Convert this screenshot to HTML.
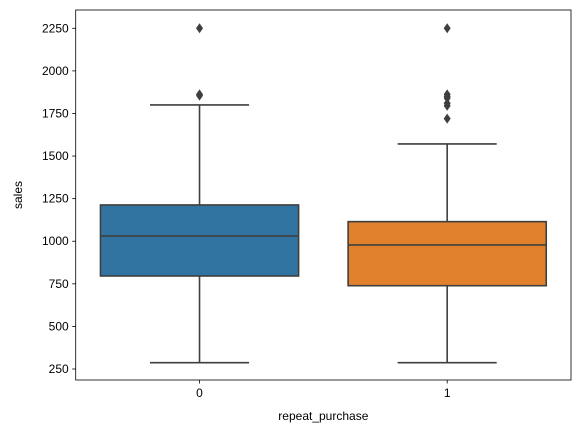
<!DOCTYPE html>
<html><head><meta charset="utf-8"><style>
body{margin:0;background:#fff;}
svg{display:block;font-family:"Liberation Sans","DejaVu Sans",sans-serif;}
</style></head><body>
<svg id="chart" width="580" height="433"></svg>
<script>
const categories=["0","1"];
const lowWhisker=[287,287];
const q1=[796,739];
const median=[1031,978];
const q3=[1213,1115];
const highWhisker=[1800,1571];
const outliers=[[2250,1862,1855],[2250,1862,1850,1840,1810,1795,1720]];
const colors=["#3274a1","#e1812c"];
const yTicks=[250,500,750,1000,1250,1500,1750,2000,2250];

const NS="http://www.w3.org/2000/svg";
const svg=document.getElementById('chart');
const L=75.7,R=571,T=10,B=380;
const y=v=>369-(v-250)*0.17035;
const step=(R-L)/categories.length;
const x=i=>L+step*(i+0.5);
function mk(t,a,p){const e=document.createElementNS(NS,t);for(const k in a)e.setAttribute(k,a[k]);(p||svg).appendChild(e);return e;}

yTicks.forEach(t=>{
  const g=mk('g',{});
  
  
  mk('line',{x1:L-3.5,x2:L,y1:y(t),y2:y(t),stroke:'#000','stroke-width':0.8},g);
  const tx=mk('text',{x:L-7,y:y(t)+4,'text-anchor':'end','font-size':12,fill:'#000'},g);tx.textContent=t;
});
categories.forEach((c,i)=>{
  const g=mk('g',{});
  
  
  const cx=x(i),hw=step*0.4,cw=step*0.2,st={stroke:'#3f3f3f','stroke-width':1.6,fill:'none'};
  mk('line',Object.assign({x1:cx,x2:cx,y1:y(lowWhisker[i]),y2:y(q1[i])},st),g);
  mk('line',Object.assign({x1:cx,x2:cx,y1:y(q3[i]),y2:y(highWhisker[i])},st),g);
  mk('line',Object.assign({x1:cx-cw,x2:cx+cw,y1:y(lowWhisker[i]),y2:y(lowWhisker[i])},st),g);
  mk('line',Object.assign({x1:cx-cw,x2:cx+cw,y1:y(highWhisker[i]),y2:y(highWhisker[i])},st),g);
  mk('rect',{x:cx-hw,y:y(q3[i]),width:2*hw,height:y(q1[i])-y(q3[i]),fill:colors[i],stroke:'#3f3f3f','stroke-width':1.6},g);
  mk('line',Object.assign({x1:cx-hw,x2:cx+hw,y1:y(median[i]),y2:y(median[i])},st),g);
  outliers[i].forEach(v=>{
    const d=mk('path',{d:`M${cx},${y(v)-5} L${cx+3.5},${y(v)} L${cx},${y(v)+5} L${cx-3.5},${y(v)} Z`,fill:'#3f3f3f'},g);
    
    
  });
  mk('line',{x1:cx,x2:cx,y1:B,y2:B+3.5,stroke:'#000','stroke-width':0.8});
  const tx=mk('text',{x:cx,y:B+17,'text-anchor':'middle','font-size':12,fill:'#000'});
  tx.textContent=c;
  
  
});
const fr=mk('rect',{x:L,y:T,width:R-L,height:B-T,fill:'none',stroke:'#000','stroke-width':0.8});


const xl=mk('text',{x:(L+R)/2,y:420,'text-anchor':'middle','font-size':12});
xl.textContent='repeat_purchase';


const yl=mk('text',{x:22,y:(T+B)/2,'text-anchor':'middle','font-size':12,transform:`rotate(-90 22 ${(T+B)/2})`});
yl.textContent='sales';


</script>
</body></html>
